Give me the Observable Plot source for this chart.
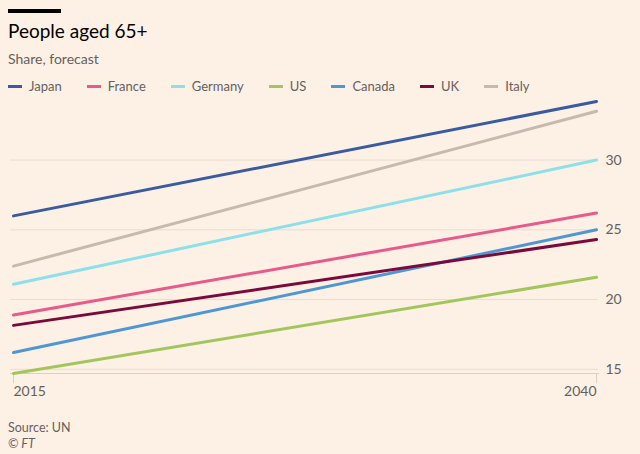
<!DOCTYPE html>
<html>
<head>
<meta charset="utf-8">
<script src="https://cdn.jsdelivr.net/npm/d3@7"></script>
<script src="https://cdn.jsdelivr.net/npm/@observablehq/plot@0.6"></script>
<style>
  html, body { margin: 0; padding: 0; }
  body { background: #fdf1e6; width: 640px; height: 454px; position: relative; overflow: hidden; font-family: Lato, "Noto Sans", sans-serif; }
  #bar { position: absolute; left: 8px; top: 9px; width: 53px; height: 4px; background: #000; }
  #title { position: absolute; left: 8px; top: 21px; font-size: 19px; line-height: 19px; color: #000; }
  #subtitle { position: absolute; left: 8px; top: 52px; font-size: 14px; line-height: 14px; color: #66605c; }
  #legend { position: absolute; left: 8px; top: 79px; display: flex; gap: 25px; font-size: 13px; line-height: 14px; color: #66605c; }
  #legend .item { display: flex; align-items: center; }
  #legend .sw { width: 14px; height: 3px; margin-right: 7px; }
  #chart { position: absolute; left: 0; top: 95px; }
  #source { position: absolute; left: 8px; top: 421px; font-size: 12.5px; line-height: 13px; color: #66605c; }
  #copy { position: absolute; left: 8px; top: 437px; font-size: 12.5px; line-height: 13px; color: #66605c; font-style: italic; }
</style>
</head>
<body>
<div id="bar"></div>
<div id="title">People aged 65+</div>
<div id="subtitle">Share, forecast</div>
<div id="legend"></div>
<div id="chart"></div>
<div id="source">Source: UN</div>
<div id="copy">© FT</div>
<script>
const countries = ["Japan", "France", "Germany", "US", "Canada", "UK", "Italy"];
const colors = ["#3a5ba1", "#e9598b", "#8ce0e7", "#a3c65c", "#4d97d5", "#7b0a3c", "#c6b9ad"];
const years = [2015, 2040];
const share2015 = [26.0, 18.9, 21.1, 14.7, 16.2, 18.15, 22.4];
const share2040 = [34.2, 26.2, 30.0, 21.6, 25.0, 24.3, 33.5];
const yTicks = [15, 20, 25, 30];

// legend
const legend = document.getElementById("legend");
countries.forEach((c, i) => {
  const item = document.createElement("div");
  item.className = "item";
  const sw = document.createElement("span");
  sw.className = "sw";
  sw.style.background = colors[i];
  const t = document.createElement("span");
  t.textContent = c;
  item.appendChild(sw);
  item.appendChild(t);
  legend.appendChild(item);
});

const data = countries.flatMap((c, i) => [
  {country: c, year: years[0], value: share2015[i]},
  {country: c, year: years[1], value: share2040[i]}
]);
const all = share2015.concat(share2040);
const yMin = d3.min(all), yMax = d3.max(all);

const chart = Plot.plot({
  width: 640,
  height: 315,
  marginLeft: 10,
  marginRight: 42,
  marginTop: 6,
  marginBottom: 37,
  style: {background: "transparent", fontFamily: "Lato, 'Noto Sans', sans-serif", fontSize: "14px", color: "#66605c"},
  x: {type: "linear", domain: years, insetLeft: 3, insetRight: 2},
  y: {domain: [yMin, yMax]},
  color: {domain: countries, range: colors},
  marks: [
    Plot.gridY(yTicks, {stroke: "#e8dbcf", strokeOpacity: 1}),
    Plot.axisY(yTicks, {anchor: "right", tickSize: 0, tickPadding: 7, fontSize: 14, fill: "#66605c", label: null}),
    Plot.frame({anchor: "bottom", stroke: "#dccfc3"}),
    Plot.axisX(years, {tickSize: 10, stroke: "#dccfc3", tickFormat: () => "", label: null}),
    Plot.text([years[0]], {x: d => d, text: d => String(d), frameAnchor: "bottom", dy: 22, textAnchor: "start", fill: "#66605c", fontSize: 14}),
    Plot.text([years[1]], {x: d => d, text: d => String(d), frameAnchor: "bottom", dy: 22, textAnchor: "end", fill: "#66605c", fontSize: 14}),
    Plot.line(data, {x: "year", y: "value", z: "country", stroke: "country", strokeWidth: 3})
  ]
});
document.getElementById("chart").appendChild(chart);
</script>
</body>
</html>
